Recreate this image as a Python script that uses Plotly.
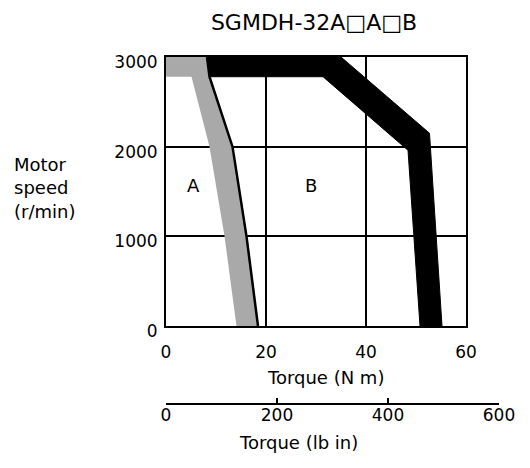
import plotly.graph_objects as go

# ---- data ----
title_text = "SGMDH-32A□A□B"

# Region A boundary band (continuous duty)
A_right_torque = [8.2, 8.7, 13.3, 16.1, 18.4]
A_right_speed = [3000, 2780, 2000, 1000, 0]
A_left_torque = [0.0, 0.0, 5.1, 8.7, 11.7, 14.1]
A_left_speed = [3000, 2780, 2780, 2000, 1000, 0]

# Region B boundary band (intermittent duty)
B_outer_torque = [8.2, 35.0, 52.7, 55.2]
B_outer_speed = [3000, 3000, 2150, 0]
B_inner_torque = [8.7, 31.4, 48.4, 50.8]
B_inner_speed = [2780, 2780, 1960, 0]

torque_nm_ticks = [0, 20, 40, 60]
speed_ticks = [0, 1000, 2000, 3000]
torque_lbin_ticks = [0, 200, 400, 600]

FONT = "DejaVu Sans"

fig = go.Figure()

# gray band A
polyA_x = A_left_torque + A_right_torque[::-1]
polyA_y = A_left_speed + A_right_speed[::-1]
fig.add_trace(go.Scatter(x=polyA_x, y=polyA_y, fill="toself", fillcolor="#a9a9a9",
                         mode="lines", line=dict(width=0, color="#a9a9a9"),
                         hoverinfo="skip", showlegend=False))
# black edge of band A
fig.add_trace(go.Scatter(x=A_right_torque, y=A_right_speed, mode="lines",
                         line=dict(color="black", width=2.5),
                         hoverinfo="skip", showlegend=False))
# black band B
polyB_x = B_outer_torque + B_inner_torque[::-1]
polyB_y = B_outer_speed + B_inner_speed[::-1]
fig.add_trace(go.Scatter(x=polyB_x, y=polyB_y, fill="toself", fillcolor="black",
                         mode="lines", line=dict(width=1, color="black"),
                         hoverinfo="skip", showlegend=False))
# dummy trace carrying the secondary (lb in) axis
fig.add_trace(go.Scatter(x=[torque_lbin_ticks[0], torque_lbin_ticks[-1]], y=[0, 0],
                         xaxis="x2", yaxis="y2", mode="markers",
                         marker=dict(opacity=0), hoverinfo="skip", showlegend=False))

# the page body has an 8px margin; work in page pixels and subtract it
OFF = 8
W, H = 530 - OFF, 468 - OFF
L = 166 - OFF
T = 57 - OFF
PR = 499 - OFF          # paper right (page 499)
PB = 403 - OFF          # paper bottom (page 403)
R = W - PR
B = H - PB
pw = PR - L
ph = PB - T


def px_x(page_x):
    return (page_x - OFF - L) / pw


def px_y(page_y):
    return (PB - (page_y - OFF)) / ph


fig.update_layout(
    width=W, height=H,
    margin=dict(l=L, r=R, t=T, b=B, pad=0),
    paper_bgcolor="white", plot_bgcolor="white",
    showlegend=False,
    font=dict(family=FONT, color="black", size=17),
    title=dict(text=title_text, x=(314 - OFF) / W, y=1 - (22 - OFF) / H,
               xref="container", yref="container",
               xanchor="center", yanchor="middle",
               font=dict(family=FONT, size=22, color="black")),
    xaxis=dict(domain=[0, px_x(466)], range=[0, 60], tickvals=torque_nm_ticks,
               showgrid=True, gridcolor="black", gridwidth=2,
               showline=True, linecolor="black", linewidth=2, mirror=True,
               zeroline=False, ticks="", ticklabelstandoff=10,
               tickfont=dict(family=FONT, size=17, color="black"),
               anchor="y", fixedrange=True),
    yaxis=dict(domain=[px_y(326), 1], range=[0, 3000], tickvals=speed_ticks,
               showgrid=True, gridcolor="black", gridwidth=2,
               showline=True, linecolor="black", linewidth=2, mirror=True,
               zeroline=False, ticks="", ticklabelshift=5, ticklabelstandoff=3,
               tickfont=dict(family=FONT, size=17, color="black"),
               anchor="x", fixedrange=True),
    xaxis2=dict(domain=[0, 1], range=[0, 600], tickvals=torque_lbin_ticks,
                showgrid=False, zeroline=False, showline=True, linecolor="black", linewidth=2,
                ticks="inside", ticklen=5, tickwidth=2, tickcolor="black",
                ticklabelstandoff=-4,
                tickfont=dict(family=FONT, size=17, color="black"),
                anchor="y2", fixedrange=True),
    yaxis2=dict(domain=[0, 0.01], range=[0, 1], visible=False, anchor="x2", fixedrange=True),
    annotations=[
        dict(text="Torque (N m)", xref="paper", yref="paper",
             x=px_x(325), y=px_y(377), xanchor="center", yanchor="middle",
             showarrow=False, font=dict(family=FONT, size=18, color="black")),
        dict(text="Torque (lb in)", xref="paper", yref="paper",
             x=px_x(298), y=px_y(442), xanchor="center", yanchor="middle",
             showarrow=False, font=dict(family=FONT, size=18, color="black")),
        dict(text="Motor<br>speed<br>(r/min)", xref="paper", yref="paper",
             x=px_x(12), y=px_y(188), xanchor="left", yanchor="middle",
             align="left", showarrow=False, font=dict(family=FONT, size=18, color="black")),
        dict(text="A", xref="x", yref="y", x=5.5, y=1570, showarrow=False,
             xanchor="center", yanchor="middle", font=dict(family=FONT, size=18, color="black")),
        dict(text="B", xref="x", yref="y", x=28.9, y=1570, showarrow=False,
             xanchor="center", yanchor="middle", font=dict(family=FONT, size=18, color="black")),
    ],
)

fig.write_html("out.html")
